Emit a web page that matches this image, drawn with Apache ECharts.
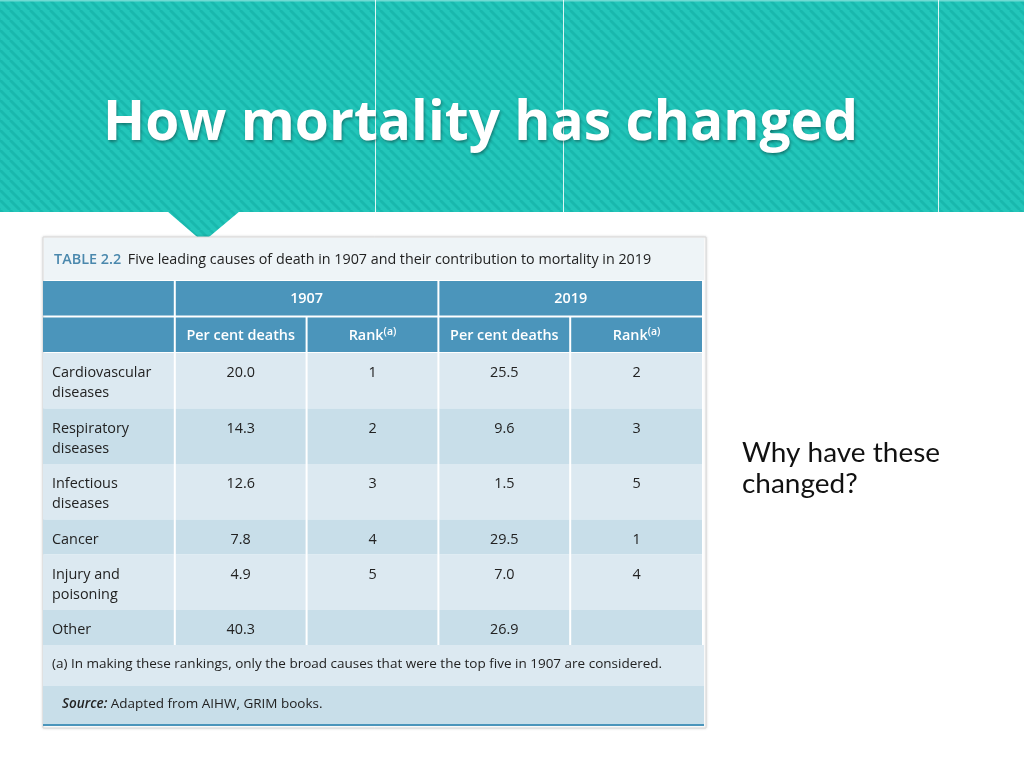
<!DOCTYPE html>
<html>
<head>
<meta charset="utf-8">
<script src="https://cdn.jsdelivr.net/npm/echarts@6/dist/echarts.min.js"></script>
<style>html,body{margin:0;padding:0;background:#fff;}#c{width:1024px;height:768px;}</style>
</head>
<body>
<div id="c"></div>
<script>
// ---- data ----
const slideTitle = 'How mortality has changed';
const sideNote = ['Why have these', 'changed?'];
const tableLabel = 'TABLE 2.2';
const tableCaption = 'Five leading causes of death in 1907 and their contribution to mortality in 2019';
const years = ['1907', '2019'];
const colHeads = ['Per cent deaths', 'Rank'];
const causes = ['Cardiovascular\ndiseases', 'Respiratory\ndiseases', 'Infectious\ndiseases', 'Cancer', 'Injury and\npoisoning', 'Other'];
const pct1907 = [20.0, 14.3, 12.6, 7.8, 4.9, 40.3];
const rank1907 = [1, 2, 3, 4, 5, null];
const pct2019 = [25.5, 9.6, 1.5, 29.5, 7.0, 26.9];
const rank2019 = [2, 3, 5, 1, 4, null];
const footnote = '(a) In making these rankings, only the broad causes that were the top five in 1907 are considered.';
const sourceLabel = 'Source:';
const sourceText = ' Adapted from AIHW, GRIM books.';

// ---- styles / layout ----
const HEAD = '#4b95bb', LIGHT = '#dce9f1', DARK = '#c8dee9', TXT = '#222';
const FONT = '"Open Sans", "Noto Sans", sans-serif';
const FS = 14.4;
const headH = 36.5, oneLineH = 35, twoLineH = 55.5;

// text measuring helper (to fit the slide fonts to the reference widths)
const mc = document.createElement('canvas').getContext('2d');
function fitScale(text, font, target) { mc.font = font; return target / mc.measureText(text).width; }
const titleFont = 'bold 55px "Open Sans"';
const titleScale = fitScale(slideTitle, titleFont, 755);
const noteFont = '26px Lato';
const noteScale = fitScale(sideNote[0], noteFont, 198);

// build cells from data
const cells = [];
let y = 0;
function add(col, span, y0, y1, text, kind, rowIdx) { cells.push({col, span, y0, y1, text, kind, rowIdx}); }
add(0, 1, y, y + headH, '', 'head');
add(1, 2, y, y + headH, years[0], 'head');
add(3, 2, y, y + headH, years[1], 'head');
y += headH;
add(0, 1, y, y + headH, '', 'head');
years.forEach((yr, k) => {
  add(1 + 2 * k, 1, y, y + headH, colHeads[0], 'head');
  add(2 + 2 * k, 1, y, y + headH, '{n|' + colHeads[1] + '}{s|(a)}', 'headRank');
});
y += headH;
causes.forEach((c, i) => {
  const h = c.indexOf('\n') >= 0 ? twoLineH : oneLineH;
  const vals = [c, pct1907[i].toFixed(1), rank1907[i] == null ? '' : String(rank1907[i]),
                pct2019[i].toFixed(1), rank2019[i] == null ? '' : String(rank2019[i])];
  vals.forEach((v, j) => add(j, 1, y, y + h, v, j === 0 ? 'label' : 'num', i));
  y += h;
});
const totalH = y;

// stripe pattern for the header band
const pc = document.createElement('canvas');
const S = 10; pc.width = S; pc.height = S;
const g = pc.getContext('2d');
g.fillStyle = '#23c6ba'; g.fillRect(0, 0, S, S);
g.strokeStyle = '#19b8ad'; g.lineWidth = 2.8;
for (let k = -1; k <= 1; k++) { g.beginPath(); g.moveTo(k * S, 0); g.lineTo(k * S + S, S); g.stroke(); }
const stripe = {image: pc, repeat: 'repeat'};

const chart = echarts.init(document.getElementById('c'), null, {renderer: 'canvas'});
chart.setOption({
  animation: false,
  grid: {left: 43, top: 280, width: 659, height: totalH},
  xAxis: {type: 'value', min: 0, max: 5, show: false},
  yAxis: {type: 'value', min: 0, max: totalH, inverse: true, show: false},
  graphic: [
    {type: 'rect', shape: {x: 0, y: 0, width: 1024, height: 212}, style: {fill: stripe}},
    {type: 'rect', shape: {x: 0, y: 0, width: 1024, height: 1.5}, style: {fill: '#6edbd3'}},
    {type: 'rect', shape: {x: 375, y: 0, width: 1, height: 212}, style: {fill: 'rgba(255,255,255,0.85)'}},
    {type: 'rect', shape: {x: 563, y: 0, width: 1, height: 212}, style: {fill: 'rgba(255,255,255,0.85)'}},
    {type: 'rect', shape: {x: 938, y: 0, width: 1, height: 212}, style: {fill: 'rgba(255,255,255,0.85)'}},
    {type: 'polygon', shape: {points: [[167, 211], [240, 211], [203, 242]]}, style: {fill: stripe}},
    {type: 'text', x: 103, y: 124, scaleX: titleScale, style: {text: slideTitle, fill: '#fff', fontFamily: '"Open Sans", sans-serif', fontWeight: 'bold', fontSize: 55,
      verticalAlign: 'middle', textShadowColor: 'rgba(0,0,0,0.35)', textShadowBlur: 3, textShadowOffsetX: 1, textShadowOffsetY: 2}},
    {type: 'text', x: 742, y: 438, scaleX: noteScale, style: {text: sideNote.join('\n'), fill: '#111', fontFamily: 'Lato, sans-serif', fontSize: 26, lineHeight: 31, verticalAlign: 'top'}},
    // table frame
    {type: 'rect', shape: {x: 43, y: 237, width: 663, height: 491}, style: {fill: '#fff', stroke: '#d8d8d8', lineWidth: 1, shadowBlur: 3, shadowColor: 'rgba(0,0,0,0.15)'}},
    {type: 'rect', shape: {x: 44, y: 238, width: 660, height: 42}, style: {fill: '#eef4f7'}},
    {type: 'text', x: 54, y: 260, style: {text: '{l|' + tableLabel + '}  {t|' + tableCaption + '}', verticalAlign: 'middle',
      rich: {l: {fill: '#4a88ad', fontFamily: FONT, fontSize: 14.4, fontWeight: 600}, t: {fill: TXT, fontFamily: FONT, fontSize: 14.3}}}},
    {type: 'rect', shape: {x: 43, y: 645, width: 661, height: 41}, style: {fill: LIGHT}},
    {type: 'rect', shape: {x: 43, y: 686, width: 661, height: 38}, style: {fill: DARK}},
    {type: 'rect', shape: {x: 43, y: 724, width: 661, height: 2}, style: {fill: '#4b95bb'}},
    {type: 'text', x: 52, y: 664, style: {text: footnote, fill: TXT, fontFamily: FONT, fontSize: 13.5, verticalAlign: 'middle'}},
    {type: 'text', x: 62, y: 704, style: {text: '{s|' + sourceLabel + '}{t|' + sourceText + '}', verticalAlign: 'middle',
      rich: {s: {fill: TXT, fontFamily: FONT, fontSize: 13.5, fontStyle: 'italic', fontWeight: 600}, t: {fill: TXT, fontFamily: FONT, fontSize: 13.5}}}}
  ],
  series: [{
    type: 'custom',
    coordinateSystem: 'cartesian2d',
    clip: false,
    data: cells.map(c => [c.col, c.y0, c.col + c.span, c.y1]),
    renderItem: function (params, api) {
      const c = cells[params.dataIndex];
      const p0 = api.coord([api.value(0), api.value(1)]);
      const p1 = api.coord([api.value(2), api.value(3)]);
      const isHead = c.kind === 'head' || c.kind === 'headRank';
      const x0 = p0[0] + (c.col === 0 ? 0 : 1), x1 = p1[0] - (api.value(2) >= 5 ? 0 : 1);
      const y0 = p0[1] + (isHead ? 1 : 0), y1 = p1[1] - (isHead ? 1 : 0);
      const fill = isHead ? HEAD : (c.rowIdx % 2 === 0 ? LIGHT : DARK);
      const children = [{type: 'rect', shape: {x: x0, y: y0, width: x1 - x0, height: y1 - y0}, style: {fill: fill}}];
      if (c.text !== '') {
        let ts;
        if (isHead) {
          ts = {type: 'text', x: (x0 + x1) / 2, y: (y0 + y1) / 2 + 1, style: {text: c.text, fill: '#fff', fontFamily: FONT, fontSize: FS, fontWeight: 600,
            align: 'center', verticalAlign: 'middle',
            rich: {n: {fill: '#fff', fontFamily: FONT, fontSize: FS, fontWeight: 600, lineHeight: 18},
                   s: {fill: '#fff', fontFamily: FONT, fontSize: 10.5, fontWeight: 600, lineHeight: 12, verticalAlign: 'top'}}}};
        } else if (c.kind === 'label') {
          ts = {type: 'text', x: x0 + 9, y: y0 + 10, style: {text: c.text, fill: TXT, fontFamily: FONT, fontSize: FS, lineHeight: 20, align: 'left', verticalAlign: 'top'}};
        } else {
          ts = {type: 'text', x: (x0 + x1) / 2, y: y0 + 10, style: {text: c.text, fill: TXT, fontFamily: FONT, fontSize: FS, lineHeight: 20, align: 'center', verticalAlign: 'top'}};
        }
        children.push(ts);
      }
      return {type: 'group', children: children};
    }
  }]
});
</script>
</body>
</html>
